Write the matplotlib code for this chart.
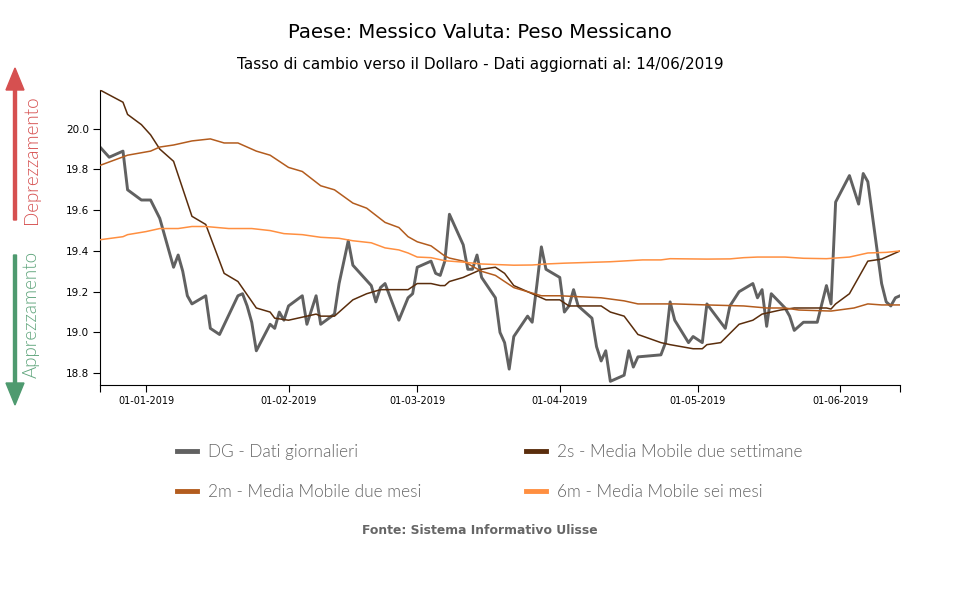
import pandas as pd
import matplotlib
matplotlib.use("Agg")
import matplotlib.pyplot as plt
from matplotlib.patches import FancyArrow
from matplotlib.lines import Line2D

# DG - dati giornalieri
dg_date = ["2018-12-22", "2018-12-24", "2018-12-27", "2018-12-28", "2018-12-31",
           "2019-01-02", "2019-01-04", "2019-01-07", "2019-01-08", "2019-01-09", "2019-01-10", "2019-01-11",
           "2019-01-14", "2019-01-15", "2019-01-17", "2019-01-21", "2019-01-22", "2019-01-23", "2019-01-24", "2019-01-25",
           "2019-01-28", "2019-01-29", "2019-01-30", "2019-01-31", "2019-02-01",
           "2019-02-04", "2019-02-05", "2019-02-07", "2019-02-08",
           "2019-02-11", "2019-02-12", "2019-02-14", "2019-02-15",
           "2019-02-19", "2019-02-20", "2019-02-21", "2019-02-22",
           "2019-02-25", "2019-02-27", "2019-02-28", "2019-03-01",
           "2019-03-04", "2019-03-05", "2019-03-06", "2019-03-07", "2019-03-08",
           "2019-03-11", "2019-03-12", "2019-03-13", "2019-03-14", "2019-03-15",
           "2019-03-18", "2019-03-19", "2019-03-20", "2019-03-21", "2019-03-22",
           "2019-03-25", "2019-03-26", "2019-03-27", "2019-03-28", "2019-03-29",
           "2019-04-01", "2019-04-02", "2019-04-03", "2019-04-04", "2019-04-05",
           "2019-04-08", "2019-04-09", "2019-04-10", "2019-04-11", "2019-04-12",
           "2019-04-15", "2019-04-16", "2019-04-17", "2019-04-18",
           "2019-04-23", "2019-04-24", "2019-04-25", "2019-04-26",
           "2019-04-29", "2019-04-30", "2019-05-02", "2019-05-03",
           "2019-05-07", "2019-05-08", "2019-05-10",
           "2019-05-13", "2019-05-14", "2019-05-15", "2019-05-16", "2019-05-17",
           "2019-05-20", "2019-05-21", "2019-05-22", "2019-05-24",
           "2019-05-27", "2019-05-29", "2019-05-30", "2019-05-31",
           "2019-06-03", "2019-06-05", "2019-06-06", "2019-06-07",
           "2019-06-10", "2019-06-11", "2019-06-12", "2019-06-13", "2019-06-14"]
dg_val = [19.91, 19.86, 19.89, 19.70, 19.65,
          19.65, 19.56, 19.32, 19.38, 19.30, 19.18, 19.14,
          19.18, 19.02, 18.99, 19.18, 19.19, 19.13, 19.05, 18.91,
          19.04, 19.02, 19.10, 19.06, 19.13,
          19.18, 19.04, 19.18, 19.04,
          19.09, 19.24, 19.45, 19.33,
          19.23, 19.15, 19.22, 19.24,
          19.06, 19.17, 19.19, 19.32,
          19.35, 19.29, 19.28, 19.35, 19.58,
          19.43, 19.31, 19.31, 19.38, 19.27,
          19.17, 19.00, 18.95, 18.82, 18.98,
          19.08, 19.05, 19.23, 19.42, 19.31,
          19.27, 19.10, 19.13, 19.21, 19.13,
          19.07, 18.93, 18.86, 18.91, 18.76,
          18.79, 18.91, 18.83, 18.88,
          18.89, 18.95, 19.15, 19.06,
          18.95, 18.98, 18.95, 19.14,
          19.02, 19.13, 19.20,
          19.24, 19.17, 19.21, 19.03, 19.19,
          19.12, 19.08, 19.01, 19.05,
          19.05, 19.23, 19.14, 19.64,
          19.77, 19.63, 19.78, 19.74,
          19.24, 19.15, 19.13, 19.17, 19.18]

# 2s - media mobile due settimane
s2_date = ["2018-12-22", "2018-12-27", "2018-12-28", "2018-12-31", "2019-01-02", "2019-01-04",
           "2019-01-07", "2019-01-11", "2019-01-14", "2019-01-18", "2019-01-21", "2019-01-25",
           "2019-01-28", "2019-01-29", "2019-02-01", "2019-02-05", "2019-02-07", "2019-02-08",
           "2019-02-11", "2019-02-12", "2019-02-15", "2019-02-18", "2019-02-21", "2019-02-27",
           "2019-03-01", "2019-03-04", "2019-03-06", "2019-03-07", "2019-03-08", "2019-03-11",
           "2019-03-15", "2019-03-18", "2019-03-20", "2019-03-22", "2019-03-25", "2019-03-29",
           "2019-04-01", "2019-04-03", "2019-04-10", "2019-04-12", "2019-04-15", "2019-04-18",
           "2019-04-23", "2019-04-25", "2019-04-30", "2019-05-02", "2019-05-03", "2019-05-06",
           "2019-05-10", "2019-05-13", "2019-05-15", "2019-05-19", "2019-05-22", "2019-05-29",
           "2019-05-30", "2019-05-31", "2019-06-03", "2019-06-07", "2019-06-10", "2019-06-14"]
s2_val = [20.19, 20.13, 20.07, 20.02, 19.97, 19.90,
          19.84, 19.57, 19.53, 19.29, 19.25, 19.12,
          19.10, 19.07, 19.06, 19.08, 19.09, 19.08,
          19.08, 19.10, 19.16, 19.19, 19.21, 19.21,
          19.24, 19.24, 19.23, 19.23, 19.25, 19.27,
          19.31, 19.32, 19.29, 19.23, 19.20, 19.16,
          19.16, 19.13, 19.13, 19.10, 19.08, 18.99,
          18.95, 18.94, 18.92, 18.92, 18.94, 18.95,
          19.04, 19.06, 19.09, 19.11, 19.12, 19.12,
          19.115, 19.14, 19.19, 19.35, 19.36, 19.40]

# 2m - media mobile due mesi
m2_date = ["2018-12-22", "2018-12-28", "2019-01-02", "2019-01-04", "2019-01-07", "2019-01-11",
           "2019-01-15", "2019-01-18", "2019-01-21", "2019-01-23", "2019-01-25", "2019-01-28",
           "2019-02-01", "2019-02-04", "2019-02-08", "2019-02-11", "2019-02-15", "2019-02-18",
           "2019-02-22", "2019-02-25", "2019-02-27", "2019-03-01", "2019-03-04", "2019-03-07",
           "2019-03-08", "2019-03-11", "2019-03-15", "2019-03-18", "2019-03-22", "2019-03-25",
           "2019-03-28", "2019-04-01", "2019-04-10", "2019-04-15", "2019-04-18", "2019-04-26",
           "2019-05-03", "2019-05-11", "2019-05-16", "2019-05-20", "2019-05-23", "2019-05-30",
           "2019-06-04", "2019-06-07", "2019-06-10", "2019-06-14"]
m2_val = [19.82, 19.87, 19.89, 19.91, 19.92, 19.94,
          19.95, 19.93, 19.93, 19.91, 19.89, 19.87,
          19.81, 19.79, 19.72, 19.70, 19.635, 19.61,
          19.54, 19.515, 19.47, 19.445, 19.425, 19.375,
          19.365, 19.35, 19.30, 19.28, 19.22, 19.20,
          19.18, 19.18, 19.17, 19.155, 19.14, 19.14,
          19.135, 19.13, 19.12, 19.12, 19.11, 19.105,
          19.12, 19.14, 19.135, 19.135]

# 6m - media mobile sei mesi
m6_date = ["2018-12-22", "2018-12-27", "2018-12-28", "2019-01-01", "2019-01-04", "2019-01-08",
           "2019-01-11", "2019-01-14", "2019-01-19", "2019-01-24", "2019-01-28", "2019-01-31",
           "2019-02-04", "2019-02-08", "2019-02-12", "2019-02-15", "2019-02-19", "2019-02-22",
           "2019-02-25", "2019-02-27", "2019-03-01", "2019-03-04", "2019-03-07", "2019-03-11",
           "2019-03-15", "2019-03-22", "2019-03-26", "2019-03-29", "2019-04-02", "2019-04-12",
           "2019-04-19", "2019-04-23", "2019-04-25", "2019-05-03", "2019-05-08", "2019-05-11",
           "2019-05-14", "2019-05-20", "2019-05-24", "2019-05-29", "2019-06-03", "2019-06-07",
           "2019-06-11", "2019-06-14"]
m6_val = [19.455, 19.47, 19.48, 19.495, 19.51, 19.51,
          19.52, 19.52, 19.51, 19.51, 19.50, 19.485,
          19.48, 19.467, 19.462, 19.45, 19.44, 19.415,
          19.405, 19.39, 19.37, 19.367, 19.352, 19.345,
          19.336, 19.33, 19.331, 19.336, 19.34, 19.347,
          19.356, 19.356, 19.362, 19.36, 19.361, 19.367,
          19.37, 19.37, 19.364, 19.362, 19.37, 19.39,
          19.393, 19.40]

etichette = ["DG - Dati giornalieri", "2s - Media Mobile due settimane",
             "2m - Media Mobile due mesi", "6m - Media Mobile sei mesi"]
colori = ["#616161", "#5a2d0c", "#b35c1e", "#ff8f40"]

fig = plt.figure(figsize=(9.6, 6), dpi=100)
ax = fig.add_axes([100 / 960, 1 - 385 / 600, 800 / 960, 295 / 600])

ax.plot(pd.to_datetime(dg_date), dg_val, color=colori[0], lw=2.1, zorder=2)
ax.plot(pd.to_datetime(s2_date), s2_val, color=colori[1], lw=1.1, zorder=3)
ax.plot(pd.to_datetime(m2_date), m2_val, color=colori[2], lw=1.1, zorder=3)
ax.plot(pd.to_datetime(m6_date), m6_val, color=colori[3], lw=1.1, zorder=3)

x0 = pd.Timestamp("2018-12-22")
x1 = pd.Timestamp("2019-06-14")
ax.set_xlim(x0, x1)
ax.set_ylim(18.742, 20.19)

mesi = pd.date_range("2019-01-01", "2019-06-01", freq="MS")
ax.set_xticks(list(mesi) + [x0, x1])
ax.set_xticklabels([d.strftime("%d-%m-%Y") for d in mesi] + ["", ""], fontsize=7)
ax.set_yticks([18.8, 19.0, 19.2, 19.4, 19.6, 19.8, 20.0])
ax.set_yticklabels(["18.8", "19.0", "19.2", "19.4", "19.6", "19.8", "20.0"], fontsize=7.5)
ax.tick_params(length=5, width=0.8, pad=3)
ax.spines["top"].set_visible(False)
ax.spines["right"].set_visible(False)

fig.text(0.5, 1 - 33 / 600, "Paese: Messico Valuta: Peso Messicano", ha="center", va="center", fontsize=14.2)
fig.text(0.5, 1 - 64 / 600, "Tasso di cambio verso il Dollaro - Dati aggiornati al: 14/06/2019",
         ha="center", va="center", fontsize=11)

# frecce a sinistra
rosso = "#d65050"
verde = "#4e9a6f"
fig.patches.append(FancyArrow(15 / 960, 1 - 220 / 600, 0, (220 - 68) / 600, width=3 / 960,
                              head_width=18 / 960, head_length=22 / 600, length_includes_head=True,
                              color=rosso, transform=fig.transFigure, figure=fig))
fig.patches.append(FancyArrow(15 / 960, 1 - 255 / 600, 0, -(405 - 255) / 600, width=3 / 960,
                              head_width=18 / 960, head_length=22 / 600, length_includes_head=True,
                              color=verde, transform=fig.transFigure, figure=fig))
fig.text(31 / 960, 1 - 160 / 600, "Deprezzamento", rotation=90, ha="center", va="center",
         color=rosso, fontsize=13.5, family="Lato", weight=300)
fig.text(31 / 960, 1 - 314 / 600, "Apprezzamento", rotation=90, ha="center", va="center",
         color="#5fa57c", fontsize=13.5, family="Lato", weight=300)

# legenda
maniglie = [Line2D([], [], color=c, lw=3.5) for c in colori]
ordine = [0, 2, 1, 3]
fig.legend([maniglie[i] for i in ordine], [etichette[i] for i in ordine], ncol=2,
           loc="center", bbox_to_anchor=(0.51, 1 - 472 / 600), frameon=False,
           prop={"family": "Lato", "weight": 300, "size": 12.4}, labelcolor="#666666",
           handlelength=1.16, handletextpad=0.64, columnspacing=6.1, labelspacing=1.35)

fig.text(0.5, 1 - 530 / 600, "Fonte: Sistema Informativo Ulisse", ha="center", va="center",
         fontsize=8.9, weight="bold", color="#666666")

fig.savefig("out.png", dpi=100)
